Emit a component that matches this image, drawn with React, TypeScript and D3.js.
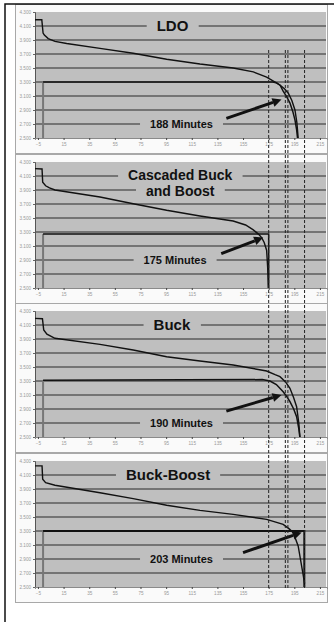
import { useEffect, useRef } from "react"
import * as d3 from "d3"

type Pt = [number, number]

const minuteTicks = [-5, 15, 35, 55, 75, 95, 115, 135, 155, 175, 195, 215]
const voltTicks = [4.3, 4.1, 3.9, 3.7, 3.5, 3.3, 3.1, 2.9, 2.7, 2.5]

const panelTitles = [["LDO"], ["Cascaded Buck", "and Boost"], ["Buck"], ["Buck-Boost"]]
const runtimeMinutes = [188, 175, 190, 203]

// battery voltage vs minutes
const ldoBattery: Pt[] = [
  [-7.3, 4.19], [-2, 4.19], [-1, 4.0], [0, 3.97], [3, 3.92], [8.3, 3.88], [17.4, 3.85],
  [43.4, 3.78], [69.3, 3.71], [95.4, 3.625], [121.4, 3.557], [147.3, 3.5], [163, 3.445],
  [173.4, 3.37], [178, 3.32], [183.8, 3.257], [187.5, 3.2], [190.3, 3.14], [193, 3.04],
  [195.5, 2.9], [197, 2.72], [198, 2.5],
]
const cascadedBattery: Pt[] = [
  [-7.3, 4.205], [-1.8, 4.2], [-1.3, 4.01], [1, 3.96], [4, 3.93], [8.3, 3.9], [43.4, 3.8],
  [69.3, 3.704], [95.4, 3.61], [121.4, 3.529], [147.3, 3.457], [157, 3.4], [163, 3.33],
  [167, 3.27], [169.5, 3.22], [171.5, 3.15], [173.4, 3.04], [174.2, 2.8], [174.7, 2.5],
]
const buckBattery: Pt[] = [
  [-7.3, 4.195], [-1.5, 4.19], [-0.5, 4.03], [2, 3.97], [8.3, 3.91], [43.4, 3.824],
  [69.3, 3.743], [95.4, 3.647], [121.4, 3.586], [147.3, 3.529], [173.4, 3.443], [180, 3.39],
  [183.8, 3.362], [188, 3.29], [191.6, 3.196], [194.5, 3.06], [196.8, 2.933], [198.5, 2.7],
  [199.4, 2.5],
]
const buckBoostBattery: Pt[] = [
  [-7.3, 4.23], [-1.8, 4.23], [-1.3, 4.04], [1, 3.99], [8.3, 3.953], [43.4, 3.847],
  [69.3, 3.762], [95.4, 3.667], [121.4, 3.595], [147.3, 3.538], [173.4, 3.467], [186.3, 3.395],
  [191, 3.33], [194.2, 3.276], [198, 3.086], [200.7, 2.8], [202.5, 2.61], [203, 2.55],
]

// regulator output vs minutes (first point is the switch-on edge)
const ldoOutput: Pt[] = [
  [-1, 2.5], [-1, 3.3], [178, 3.3], [181, 3.29], [184, 3.25], [186.3, 3.17], [189, 3.09],
  [191.6, 3.0], [193.8, 2.88], [195.5, 2.76], [196.8, 2.62], [197.5, 2.5],
]
const cascadedOutput: Pt[] = [[-1, 2.5], [-1, 3.27], [175, 3.27], [175, 2.5]]
const buckOutput: Pt[] = [
  [-1, 2.5], [-1, 3.31], [170, 3.32], [176, 3.3], [181, 3.25], [186.3, 3.147], [189, 3.08],
  [191.6, 3.004], [194.5, 2.9], [196.8, 2.79], [198.5, 2.62], [199.3, 2.5],
]
const buckBoostOutput: Pt[] = [[-1, 2.5], [-1, 3.3], [202.8, 3.3], [202.8, 2.5]]

const batteries = [ldoBattery, cascadedBattery, buckBattery, buckBoostBattery]
const outputs = [ldoOutput, cascadedOutput, buckOutput, buckBoostOutput]

// annotation anchors (minutes, volts)
const titleAnchors: Pt[] = [[100, 4.1], [106, 4.1], [99.5, 4.1], [96.5, 4.1]]
const labelAnchors: Pt[] = [[107, 2.7], [102, 2.9], [107, 2.7], [107, 2.9]]
const arrowTails: Pt[] = [[142, 2.78], [138, 2.99], [142, 2.87], [155, 2.99]]
const arrowHeads: Pt[] = [[185, 3.05], [170.7, 3.22], [185, 3.1], [200.7, 3.28]]
const dashedMinutes = [175, 188, 190, 203]

export default function App() {
  const svgRef = useRef<SVGSVGElement>(null)

  useEffect(() => {
    if (!svgRef.current) return
    const svg = d3.select(svgRef.current)
    svg.selectAll("*").remove()

    const W = 334
    const H = 622
    const plotLeft = 35
    const plotRight = 326
    const plotH = 126
    const gray = "#bfbfbf"
    const font = "'Liberation Sans', Arial, sans-serif"
    const boxTops = [4, 154, 303, 453]

    const x = d3.scaleLinear().domain([-7.3, 220.5]).range([plotLeft, 327])

    boxTops.forEach((top, i) => {
      const g = svg.append("g")
      const plotTop = top + 8
      const y = d3.scaleLinear().domain([2.5, 4.3]).range([plotTop + plotH, plotTop])

      g.append("rect")
        .attr("x", 15.5)
        .attr("y", top + 0.5)
        .attr("width", 312)
        .attr("height", 149)
        .attr("fill", "#fafafa")
        .attr("stroke", "#a8a8a8")

      g.append("rect")
        .attr("x", plotLeft)
        .attr("y", plotTop)
        .attr("width", plotRight - plotLeft)
        .attr("height", plotH)
        .attr("fill", gray)

      // gridlines
      g.selectAll(".grid")
        .data(voltTicks.slice(1, -1))
        .join("line")
        .attr("x1", plotLeft)
        .attr("x2", plotRight)
        .attr("y1", (d) => y(d))
        .attr("y2", (d) => y(d))
        .attr("stroke", "#2b2b2b")
        .attr("stroke-width", 1.2)

      // axes
      const yAxis = g
        .append("g")
        .attr("transform", `translate(${plotLeft},0)`)
        .call(d3.axisLeft(y).tickValues(voltTicks).tickFormat(d3.format(".3f")).tickSize(2).tickPadding(2))
      yAxis.select(".domain").attr("stroke", "#555")
      yAxis.selectAll(".tick line").attr("stroke", "#666")
      yAxis.selectAll("text").attr("fill", "#999").attr("font-size", 4.6).attr("font-family", font)

      const xAxis = g
        .append("g")
        .attr("transform", `translate(0,${plotTop + plotH})`)
        .call(d3.axisBottom(x).tickValues(minuteTicks).tickSize(2).tickPadding(3))
      xAxis.select(".domain").attr("stroke", "#8a8a8a")
      xAxis.selectAll(".tick line").attr("stroke", "#444")
      xAxis.selectAll("text").attr("fill", "#999").attr("font-size", 4.6).attr("font-family", font)

      // title with gray backing over the gridline
      const lines = panelTitles[i]
      const fs = lines.length > 1 ? 14 : 15
      lines.forEach((line, k) => {
        const tx = x(titleAnchors[i][0])
        const ty = lines.length > 1 ? y(titleAnchors[i][1]) - 1 + k * 16 : y(titleAnchors[i][1])
        const bg = g.append("rect").attr("fill", gray)
        const t = g
          .append("text")
          .attr("x", tx)
          .attr("y", ty + fs * 0.36)
          .attr("text-anchor", "middle")
          .attr("font-family", font)
          .attr("font-weight", "bold")
          .attr("font-size", fs)
          .attr("fill", "#111")
          .text(line)
        const bb = (t.node() as SVGTextElement).getBBox()
        bg.attr("x", bb.x - 10).attr("y", ty - 4).attr("width", bb.width + 20).attr("height", 8)
      })

      // runtime label
      {
        const lx = x(labelAnchors[i][0])
        const ly = y(labelAnchors[i][1])
        const bg = g.append("rect").attr("fill", gray)
        const t = g
          .append("text")
          .attr("x", lx)
          .attr("y", ly + 4)
          .attr("text-anchor", "middle")
          .attr("font-family", font)
          .attr("font-weight", "bold")
          .attr("font-size", 11)
          .attr("fill", "#111")
          .text(`${runtimeMinutes[i]} Minutes`)
        const bb = (t.node() as SVGTextElement).getBBox()
        bg.attr("x", bb.x - 10).attr("y", ly - 3).attr("width", bb.width + 20).attr("height", 6)
      }

      const line = d3
        .line<Pt>()
        .x((d) => x(d[0]))
        .y((d) => y(d[1]))

      // output: switch-on edge in gray, rest in black
      g.append("path")
        .attr("d", line(outputs[i].slice(0, 2)))
        .attr("fill", "none")
        .attr("stroke", "#777")
        .attr("stroke-width", 2)
      g.append("path")
        .attr("d", line(outputs[i].slice(1)))
        .attr("fill", "none")
        .attr("stroke", "#111")
        .attr("stroke-width", i === 3 ? 2 : 1.5)

      g.append("path")
        .attr("d", line(batteries[i]))
        .attr("fill", "none")
        .attr("stroke", "#111")
        .attr("stroke-width", 1.4)

      // arrow
      const x0 = x(arrowTails[i][0])
      const y0 = y(arrowTails[i][1])
      const x1 = x(arrowHeads[i][0])
      const y1 = y(arrowHeads[i][1])
      const ang = Math.atan2(y1 - y0, x1 - x0)
      const hl = 9
      const hw = 4.5
      const bx = x1 - hl * Math.cos(ang)
      const by = y1 - hl * Math.sin(ang)
      g.append("line")
        .attr("x1", x0)
        .attr("y1", y0)
        .attr("x2", bx)
        .attr("y2", by)
        .attr("stroke", "#111")
        .attr("stroke-width", 3)
      g.append("path")
        .attr(
          "d",
          `M${x1},${y1}L${bx - hw * Math.sin(ang)},${by + hw * Math.cos(ang)}L${bx + hw * Math.sin(ang)},${by - hw * Math.cos(ang)}Z`
        )
        .attr("fill", "#111")
    })

    // dashed runtime markers across all panels
    const yTopMarker = 50
    const yBottomMarker = 590
    svg
      .selectAll(".marker")
      .data(dashedMinutes)
      .join("line")
      .attr("x1", (d) => x(d))
      .attr("x2", (d) => x(d))
      .attr("y1", yTopMarker)
      .attr("y2", yBottomMarker)
      .attr("stroke", "#222")
      .attr("stroke-width", 1)
      .attr("stroke-dasharray", "3,2")

    // outer frame
    svg
      .append("path")
      .attr("d", `M5,${H} V4 H${W}`)
      .attr("fill", "none")
      .attr("stroke", "#111")
      .attr("stroke-width", 1.5)
  }, [])

  return (
    <div style={{ position: "absolute", left: 0, top: 0 }}>
      <svg ref={svgRef} width={334} height={622} style={{ display: "block", background: "#fff" }} />
    </div>
  )
}
